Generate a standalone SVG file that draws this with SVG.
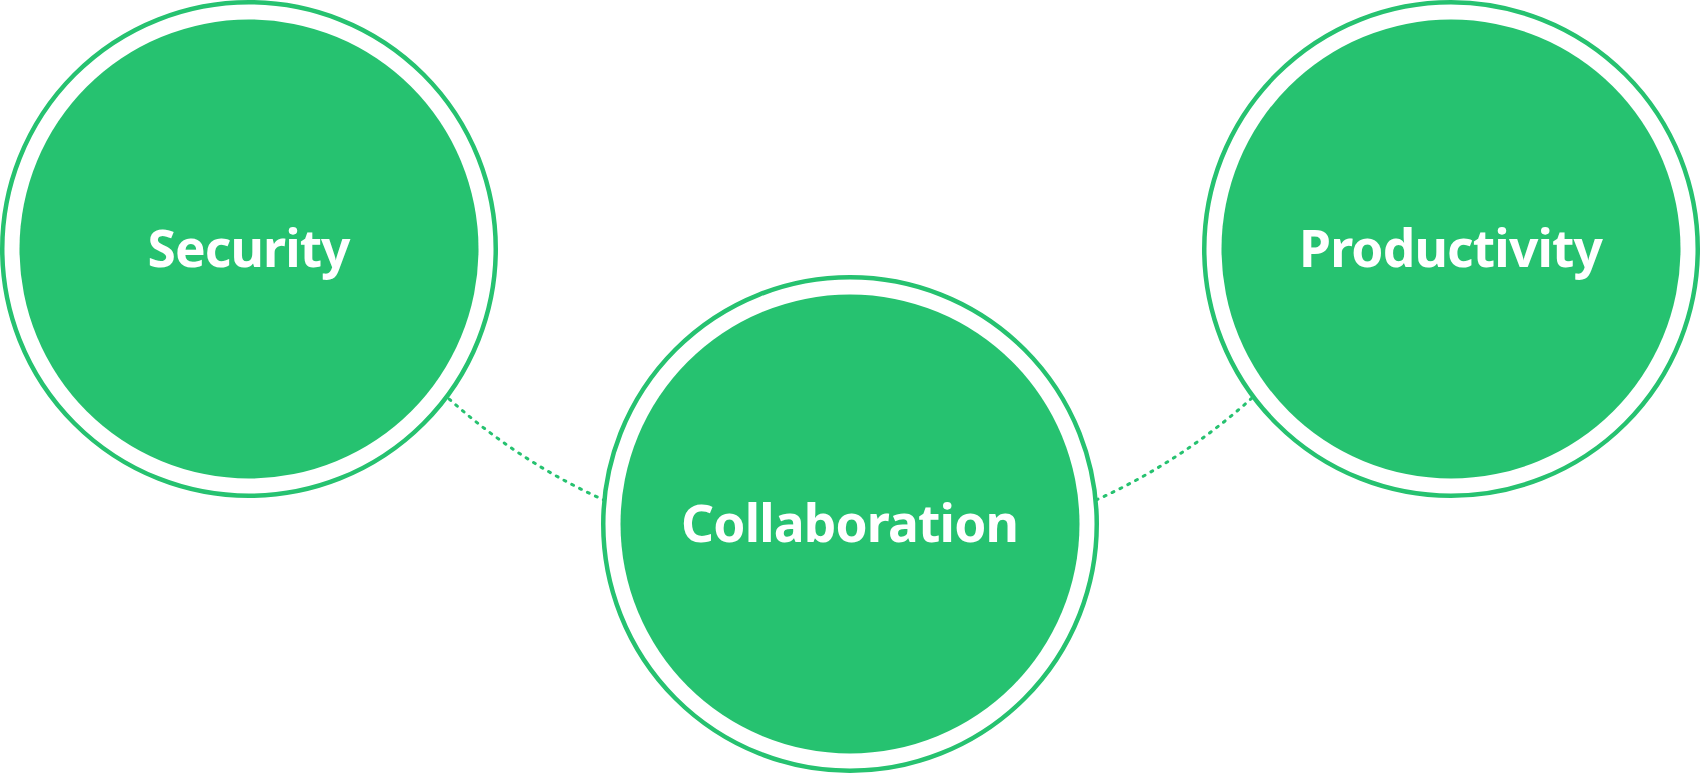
<svg xmlns="http://www.w3.org/2000/svg" width="1700" height="774" viewBox="0 0 1700 774">
  <style>
    .ring { fill: #ffffff; stroke: #26C270; stroke-width: 4.5; }
    .core { fill: #26C270; }
    .label { font-family: "Noto Sans", "Open Sans", sans-serif; font-weight: 700; font-size: 51.5px; fill: #ffffff; text-anchor: middle; }
    .dots { fill: none; stroke: #26C270; stroke-width: 3; stroke-linecap: round; stroke-dasharray: 2 6.8; }
  </style>
  <rect width="1700" height="774" fill="#ffffff"/>
  <g id="connectors">
    <path class="dots" d="M 430 381 A 599 599 0 0 0 620 507"/>
    <path class="dots" d="M 1080 507 A 599 599 0 0 0 1270 381"/>
  </g>
  <g id="security">
    <circle class="ring" cx="249" cy="249" r="246.75"/>
    <circle class="core" cx="249" cy="249" r="229.5"/>
    <text class="label" x="249" y="267" textLength="203" lengthAdjust="spacing">Security</text>
  </g>
  <g id="collaboration">
    <circle class="ring" cx="850" cy="524" r="246.75"/>
    <circle class="core" cx="850" cy="524" r="229.5"/>
    <text class="label" x="850" y="542" textLength="338" lengthAdjust="spacing">Collaboration</text>
  </g>
  <g id="productivity">
    <circle class="ring" cx="1451" cy="249" r="246.75"/>
    <circle class="core" cx="1451" cy="249" r="229.5"/>
    <text class="label" x="1451" y="267" textLength="304" lengthAdjust="spacing">Productivity</text>
  </g>
</svg>
